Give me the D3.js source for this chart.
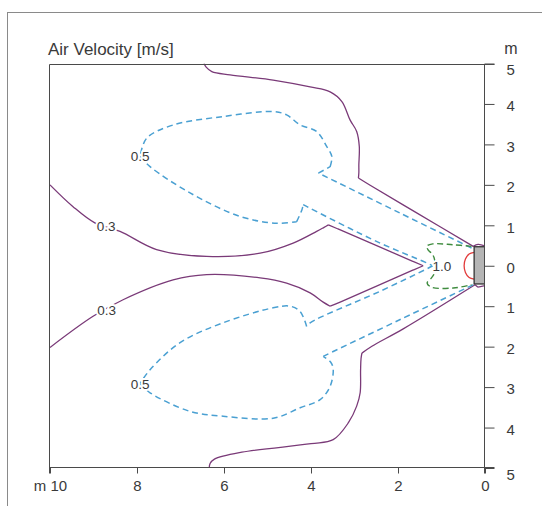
<!DOCTYPE html>
<html><head><meta charset="utf-8">
<script src="https://cdn.jsdelivr.net/npm/d3@7"></script>
<style>
body{margin:0;background:#fff}
svg{display:block}
text{font-family:"Liberation Sans",Arial,Helvetica,sans-serif}
</style>
</head><body>
<svg id="c" width="542" height="506"></svg>
<script>
// ---- data (metres: x = distance from wall, y = lateral offset) ----
const xTicks = [10, 8, 6, 4, 2, 0];
const yTicks = [5, 4, 3, 2, 1, 0, -1, -2, -3, -4, -5];
const titleText = "Air Velocity [m/s]";
const unitText = "m";

// 0.3 m/s contour, outer upper branch
const outerUpper03 = [[6.46,5.0],[6.41,4.91],[6.28,4.80],[5.86,4.72],[4.87,4.59],[4.02,4.42],[3.56,4.30],[3.29,4.06],[3.10,3.60],[2.95,3.32],[2.89,2.95],[2.90,2.49],[2.90,2.30],[2.91,2.17],[2.64,1.99],[1.59,1.32],[0.27,0.48],[0.16,0.53],[0.0,0.49]];
// 0.3 m/s contour, outer lower branch
const outerLower03 = [[0.0,-0.49],[0.16,-0.53],[0.23,-0.47],[1.88,-1.56],[2.60,-1.99],[2.83,-2.16],[2.85,-2.30],[2.86,-2.57],[2.87,-3.14],[2.95,-3.47],[3.14,-3.88],[3.49,-4.30],[4.0,-4.40],[5.59,-4.61],[6.22,-4.78],[6.32,-4.89],[6.34,-5.0]];
// 0.3 m/s contour, inner branch (between the two lobes)
const inner03 = [[10.0,2.0],[9.47,1.46],[8.97,1.06],[8.39,0.85],[7.55,0.40],[6.40,0.23],[5.17,0.31],[4.41,0.56],[3.87,0.85],[3.70,0.95],[3.60,1.01],[3.38,0.91],[1.66,0.11],[1.42,0.0],[1.66,-0.11],[3.33,-0.90],[3.56,-1.0],[3.72,-0.90],[4.02,-0.67],[4.56,-0.43],[5.17,-0.30],[6.40,-0.22],[7.17,-0.35],[8.32,-0.84],[9.01,-1.25],[10.0,-2.02]];
// 0.5 m/s contour
const contour05 = [[0.31,0.44],[1.95,1.30],[3.56,2.15],[3.83,2.29],[3.56,2.45],[3.52,2.70],[3.64,2.95],[3.87,3.32],[4.25,3.48],[4.56,3.73],[4.87,3.81],[6.02,3.69],[7.17,3.48],[7.78,3.15],[7.93,2.70],[7.70,2.45],[6.78,1.80],[5.63,1.22],[4.79,1.05],[4.33,1.09],[4.21,1.38],[4.18,1.51],[4.02,1.42],[2.41,0.56],[1.38,0.09],[1.20,0.0],[1.38,-0.10],[2.41,-0.63],[4.02,-1.41],[4.10,-1.50],[4.25,-1.13],[4.48,-1.00],[4.87,-1.04],[6.02,-1.41],[7.01,-1.90],[7.70,-2.57],[7.93,-2.91],[7.70,-3.14],[6.78,-3.60],[6.02,-3.72],[4.87,-3.77],[4.25,-3.51],[3.79,-3.31],[3.56,-2.98],[3.49,-2.55],[3.55,-2.38],[3.72,-2.24],[3.49,-2.12],[1.95,-1.33],[0.27,-0.47]];
// 1.0 m/s contour
const contour10 = [[0.31,0.48],[0.74,0.52],[1.20,0.54],[1.34,0.48],[1.30,0.38],[1.23,0.31],[1.17,0.20],[1.15,0.0],[1.17,-0.20],[1.23,-0.30],[1.33,-0.43],[1.23,-0.53],[0.73,-0.55],[0.31,-0.47]];
// higher velocity contour at the outlet
const outletArc = [[0.25,0.33],[0.365,0.29],[0.45,0.165],[0.48,0.0],[0.45,-0.165],[0.365,-0.29],[0.25,-0.33]];
// outlet unit
const unitX = [0, 0.25];
const unitY = [-0.45, 0.47];
// contour labels
const labelText = ["0.3", "0.3", "0.5", "0.5", "1.0"];
const labelX = [8.71, 8.70, 7.93, 7.93, 0.99];
const labelY = [0.99, -1.09, 2.70, -2.93, 0.0];

// ---- drawing ----
const svg = d3.select("#c");
const x = d3.scaleLinear().domain([10, 0]).range([50, 485]);
const y = d3.scaleLinear().domain([5, -5]).range([63.5, 468]);
const AX = "#4a4a4a", TXT = "#3a3a3a";

// outer frame
svg.append("rect").attr("x", 7.5).attr("y", 12.5).attr("width", 700).attr("height", 700)
  .attr("fill", "none").attr("stroke", "#8a8a8a").attr("stroke-width", 1);

// title & unit
svg.append("text").attr("x", 48).attr("y", 55).attr("font-size", 17).attr("fill", TXT).text(titleText);
svg.append("text").attr("x", 511).attr("y", 54).attr("text-anchor", "middle").attr("font-size", 16).attr("fill", TXT).text(unitText);

svg.append("clipPath").attr("id", "clip").append("rect")
  .attr("x", x(10)).attr("y", y(5)).attr("width", x(0) - x(10)).attr("height", y(-5) - y(5));

const plot = svg.append("g").attr("clip-path", "url(#clip)");
const line = d3.line().x(d => d[0]).y(d => d[1]).curve(d3.curveCatmullRom.alpha(0.5));

// split a contour into smooth pieces at sharp corners (cusps), measured in pixels
function pathOf(data, maxTurnDeg) {
  const p = data.map(d => [x(d[0]), y(d[1])]);
  const pieces = [];
  let cur = [p[0]];
  for (let i = 1; i < p.length; i++) {
    cur.push(p[i]);
    if (i < p.length - 1) {
      const a1 = Math.atan2(p[i][1] - p[i-1][1], p[i][0] - p[i-1][0]);
      const a2 = Math.atan2(p[i+1][1] - p[i][1], p[i+1][0] - p[i][0]);
      let t = Math.abs(a2 - a1) * 180 / Math.PI;
      if (t > 180) t = 360 - t;
      if (t > maxTurnDeg) { pieces.push(cur); cur = [p[i]]; }
    }
  }
  pieces.push(cur);
  return pieces.map(pc => line(pc)).join("");
}

const purple = "#7a3a78", blue = "#4aa0d2", green = "#3f8c3f", red = "#e23b3b";
[outerUpper03, outerLower03, inner03].forEach(c =>
  plot.append("path").attr("d", pathOf(c, 45)).attr("fill", "none").attr("stroke", purple)
    .attr("stroke-width", 1.3).attr("stroke-linejoin", "miter"));
plot.append("path").attr("d", pathOf(contour05, 45)).attr("fill", "none").attr("stroke", blue)
  .attr("stroke-width", 1.5).attr("stroke-dasharray", "6,4");
plot.append("path").attr("d", pathOf(contour10, 179)).attr("fill", "none").attr("stroke", green)
  .attr("stroke-width", 1.4).attr("stroke-dasharray", "6,3.5");
plot.append("path").attr("d", pathOf(outletArc, 179)).attr("fill", "none").attr("stroke", red).attr("stroke-width", 1.3);

// outlet
plot.append("rect").attr("x", x(unitX[1])).attr("y", y(unitY[1]))
  .attr("width", x(unitX[0]) - x(unitX[1])).attr("height", y(unitY[0]) - y(unitY[1]))
  .attr("fill", "#b5b5b5").attr("stroke", "#333").attr("stroke-width", 1.3);

// contour labels with white halo
labelText.forEach((t, i) => {
  svg.append("text").attr("x", x(labelX[i])).attr("y", y(labelY[i]))
    .attr("text-anchor", "middle").attr("dy", "0.36em").attr("font-size", 13.5)
    .attr("fill", TXT).attr("stroke", "#fff").attr("stroke-width", 4)
    .attr("paint-order", "stroke").attr("stroke-linejoin", "round").text(t);
});

// axes
const xAxis = d3.axisBottom(x).tickValues(xTicks).tickSize(6).tickPadding(7)
  .tickFormat(d => d === 10 ? "m 10" : d);
const gx = svg.append("g").attr("transform", `translate(0,${Math.round(y(-5)) - 0.5})`).call(xAxis);
const yAxis = d3.axisRight(y).tickValues(yTicks).tickSize(10).tickPadding(12)
  .tickFormat(d => Math.abs(d));
const gy = svg.append("g").attr("transform", `translate(${Math.round(x(0)) - 0.5},0)`).call(yAxis);
[gx, gy].forEach(g => {
  g.select(".domain").remove();
  g.selectAll("line").attr("stroke", AX);
  g.selectAll("text").attr("font-size", 15).attr("fill", TXT)
    .attr("font-family", "'Liberation Sans',Arial,sans-serif");
});
gy.selectAll(".tick text").attr("dy", d => Math.abs(d) === 5 ? "0.75em" : "0.45em");

// plot frame lines (top, left, bottom, right)
const L = Math.round(x(10)) - 0.5, R = Math.round(x(0)) - 0.5;
const T = Math.round(y(5)) + 0.5, B = Math.round(y(-5)) - 0.5;
const frame = svg.append("g").attr("stroke", AX).attr("stroke-width", 1);
frame.append("line").attr("x1", L).attr("x2", R + 10).attr("y1", T).attr("y2", T);
frame.append("line").attr("x1", L).attr("x2", R + 10).attr("y1", B).attr("y2", B);
frame.append("line").attr("x1", L).attr("x2", L).attr("y1", T).attr("y2", B + 6);
frame.append("line").attr("x1", R).attr("x2", R).attr("y1", T).attr("y2", B + 6);
</script>
</body></html>
